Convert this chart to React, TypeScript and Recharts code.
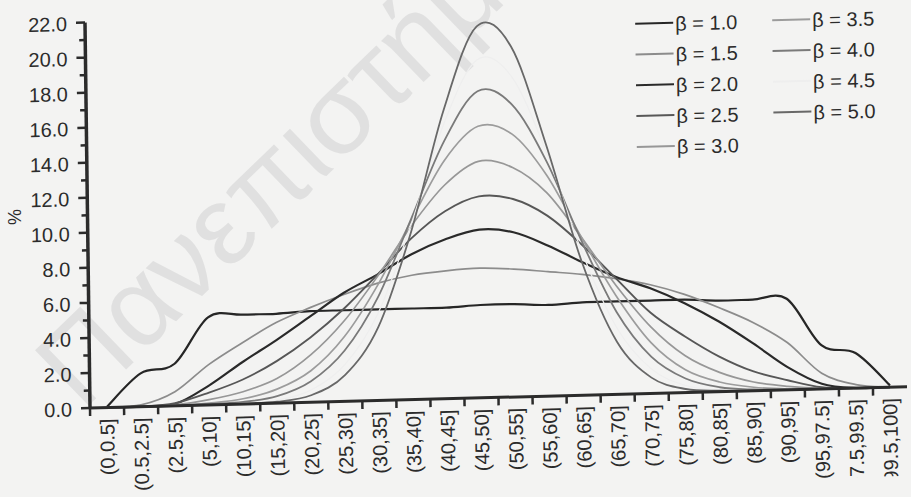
import { LineChart, Line, XAxis, YAxis, Legend } from "recharts";

const categories = [
  "(0,0.5]", "(0.5,2.5]", "(2.5,5]", "(5,10]", "(10,15]", "(15,20]", "(20,25]", "(25,30]",
  "(30,35]", "(35,40]", "(40,45]", "(45,50]", "(50,55]", "(55,60]", "(60,65]", "(65,70]",
  "(70,75]", "(75,80]", "(80,85]", "(85,90]", "(90,95]", "(95,97.5]", "(97.5,99.5]", "(99.5,100]",
];

// % of cases per interval, one array per beta
const beta10 = [0.05, 1.9, 2.4, 5.0, 5.1, 5.1, 5.2, 5.2, 5.2, 5.2, 5.2, 5.3, 5.3, 5.2, 5.3, 5.3, 5.3, 5.3, 5.2, 5.2, 5.2, 2.5, 2.0, 0.1];
const beta15 = [0.0, 0.1, 0.8, 2.3, 3.5, 4.6, 5.4, 6.1, 6.7, 7.1, 7.3, 7.4, 7.3, 7.1, 6.9, 6.6, 6.2, 5.6, 4.8, 3.9, 2.7, 0.9, 0.2, 0.0];
const beta20 = [0.0, 0.0, 0.1, 1.1, 2.4, 3.6, 4.9, 6.2, 7.2, 8.3, 9.1, 9.6, 9.4, 8.6, 7.6, 6.7, 6.0, 5.1, 4.0, 2.7, 1.3, 0.3, 0.0, 0.0];
const beta25 = [0.0, 0.0, 0.15, 0.7, 1.4, 2.4, 3.7, 5.3, 7.2, 9.2, 10.7, 11.5, 11.3, 10.3, 8.6, 6.6, 4.6, 3.2, 2.0, 1.1, 0.55, 0.1, 0.0, 0.0];
const beta30 = [0.0, 0.0, 0.05, 0.3, 0.7, 1.4, 2.7, 4.6, 7.1, 9.9, 12.2, 13.5, 13.1, 11.6, 9.0, 6.2, 3.8, 2.1, 1.1, 0.5, 0.2, 0.03, 0.0, 0.0];
const beta35 = [0.0, 0.0, 0.0, 0.1, 0.3, 0.8, 1.8, 3.7, 6.6, 10.2, 13.6, 15.5, 15.0, 12.6, 9.0, 5.6, 2.9, 1.3, 0.55, 0.2, 0.05, 0.0, 0.0, 0.0];
const beta40 = [0.0, 0.0, 0.0, 0.05, 0.12, 0.4, 1.2, 2.9, 5.9, 10.3, 14.7, 17.5, 16.7, 13.4, 8.8, 4.7, 2.1, 0.8, 0.25, 0.07, 0.0, 0.0, 0.0, 0.0];
const beta45 = [0.0, 0.0, 0.0, 0.0, 0.05, 0.17, 0.7, 2.1, 5.0, 10.0, 15.7, 19.3, 18.3, 13.9, 8.2, 3.8, 1.4, 0.4, 0.1, 0.02, 0.0, 0.0, 0.0, 0.0];
const beta50 = [0.0, 0.0, 0.0, 0.0, 0.02, 0.08, 0.4, 1.5, 4.2, 9.6, 16.5, 21.2, 20.0, 14.3, 7.6, 3.0, 0.9, 0.2, 0.05, 0.0, 0.0, 0.0, 0.0, 0.0];

const seriesNames = ["β = 1.0", "β = 1.5", "β = 2.0", "β = 2.5", "β = 3.0", "β = 3.5", "β = 4.0", "β = 4.5", "β = 5.0"];
const seriesValues = [beta10, beta15, beta20, beta25, beta30, beta35, beta40, beta45, beta50];
const seriesColors = ["#262626", "#8c8c8c", "#2a2a2a", "#575757", "#979797", "#9c9c9c", "#7a7a7a", "#eeeeee", "#686868"];
const seriesWidths = [2.2, 1.7, 2.2, 1.9, 1.7, 1.7, 1.8, 1.2, 1.8];

const yTicks = [0, 1, 2, 3, 4, 5, 6, 7, 8, 9, 10, 11, 12, 13, 14, 15, 16, 17, 18, 19, 20, 21, 22];

const data = categories.map((c, i) => {
  const row: Record<string, number | string> = { pos: i + 0.5, cat: c };
  seriesValues.forEach((vals, s) => {
    row["s" + s] = vals[i];
  });
  return row;
});
const xTicks = data.map((d) => d.pos as number);

const FONT = "'Liberation Sans', Arial, sans-serif";
const INK = "#2b2b2b";
const BG = "#f3f3f2";
const PLOT_LEFT = 90;
const PLOT_RIGHT = 907;
const BAND = (PLOT_RIGHT - PLOT_LEFT) / categories.length;

// Excel-like smoothed line (Catmull-Rom through the points)
function smoothCurve(context: any) {
  let pts: number[][] = [];
  return {
    areaStart() {},
    areaEnd() {},
    lineStart() {
      pts = [];
    },
    point(x: number, y: number) {
      pts.push([+x, +y]);
    },
    lineEnd() {
      if (!pts.length) return;
      context.moveTo(pts[0][0], pts[0][1]);
      for (let i = 0; i < pts.length - 1; i++) {
        const p0 = pts[i - 1] || pts[i];
        const p1 = pts[i];
        const p2 = pts[i + 1];
        const p3 = pts[i + 2] || p2;
        const k = 1 / 6;
        context.bezierCurveTo(
          p1[0] + (p2[0] - p0[0]) * k,
          p1[1] + (p2[1] - p0[1]) * k,
          p2[0] - (p3[0] - p1[0]) * k,
          p2[1] - (p3[1] - p1[1]) * k,
          p2[0],
          p2[1]
        );
      }
    },
  };
}

function XTick(props: any) {
  const { x, y, payload } = props;
  const i = Math.round(payload.value - 0.5);
  const bx = x - BAND / 2;
  return (
    <g>
      <line x1={bx} x2={bx} y1={y} y2={y + 8} stroke={INK} strokeWidth={2.5} />
      <text
        transform={`translate(${x},${y + 11}) rotate(-90)`}
        textAnchor="end"
        dominantBaseline="central"
        fontFamily={FONT}
        fontSize={20}
        fill={INK}
      >
        {categories[i]}
      </text>
    </g>
  );
}

function YTick(props: any) {
  const { x, y, payload } = props;
  const major = payload.value % 2 === 0;
  return (
    <g>
      <line x1={x - (major ? 9 : 6)} x2={x} y1={y} y2={y} stroke={INK} strokeWidth={2.5} />
      {major && (
        <text x={x - 18} y={y + 1} textAnchor="end" dominantBaseline="central" fontFamily={FONT} fontSize={20} fill={INK}>
          {payload.value.toFixed(1)}
        </text>
      )}
    </g>
  );
}

function LegendBox() {
  const rows = 5;
  return (
    <svg width={280} height={170}>
      {seriesNames.map((name, s) => {
        const col = Math.floor(s / rows);
        const row = s % rows;
        const lx = col === 0 ? 10 : 147;
        const ty = 18 + row * 30.8;
        return (
          <g key={name}>
            <line x1={lx} x2={lx + 38} y1={ty} y2={ty} stroke={seriesColors[s]} strokeWidth={2} />
            <text x={lx + 40} y={ty + 1} dominantBaseline="central" fontFamily={FONT} fontSize={20} fill={INK}>
              {name}
            </text>
          </g>
        );
      })}
    </svg>
  );
}

export default function App() {
  return (
    <div style={{ position: "fixed", left: 0, top: 0, width: 911, height: 497, background: BG, overflow: "hidden" }}>
      <svg width={911} height={497} style={{ position: "absolute", left: 0, top: 0 }}>
        <text x={82} y={412} transform="rotate(-44 82 412)" fontFamily={FONT} fontSize={112} fill="#e0e0e0">
          Πανεπιστήμιο
        </text>
        <text
          transform="translate(15,217) rotate(-90)"
          textAnchor="middle"
          dominantBaseline="central"
          fontFamily={FONT}
          fontSize={18}
          fill={INK}
        >
          %
        </text>
      </svg>
      <div
        style={{
          position: "absolute",
          left: 0,
          top: 0,
          transform: "matrix(1, -0.026, 0.013, 1, 0, 0)",
          transformOrigin: "90px 408px",
        }}
      >
        <LineChart width={911} height={497} data={data} margin={{ top: 22.6, right: 4, bottom: 0, left: 10 }}>
          <XAxis
            dataKey="pos"
            type="number"
            domain={[0, 24]}
            ticks={xTicks}
            interval={0}
            height={89}
            tickLine={false}
            tickSize={0}
            tickMargin={0}
            axisLine={{ stroke: INK, strokeWidth: 3 }}
            tick={(p: any) => <XTick {...p} />}
          />
          <YAxis
            type="number"
            domain={[0, 22]}
            ticks={yTicks}
            interval={0}
            width={80}
            tickLine={false}
            tickSize={0}
            tickMargin={0}
            axisLine={{ stroke: INK, strokeWidth: 3.5 }}
            tick={(p: any) => <YTick {...p} />}
          />
          <Legend
            layout="vertical"
            align="center"
            verticalAlign="middle"
            content={() => <LegendBox />}
            wrapperStyle={{ left: 630, top: 20, width: 280, height: 170 }}
          />
          {seriesNames.map((name, s) => (
            <Line
              key={name}
              name={name}
              dataKey={"s" + s}
              type={smoothCurve as any}
              stroke={seriesColors[s]}
              strokeWidth={seriesWidths[s]}
              dot={false}
              activeDot={false}
              isAnimationActive={false}
            />
          ))}
        </LineChart>
      </div>
    </div>
  );
}
